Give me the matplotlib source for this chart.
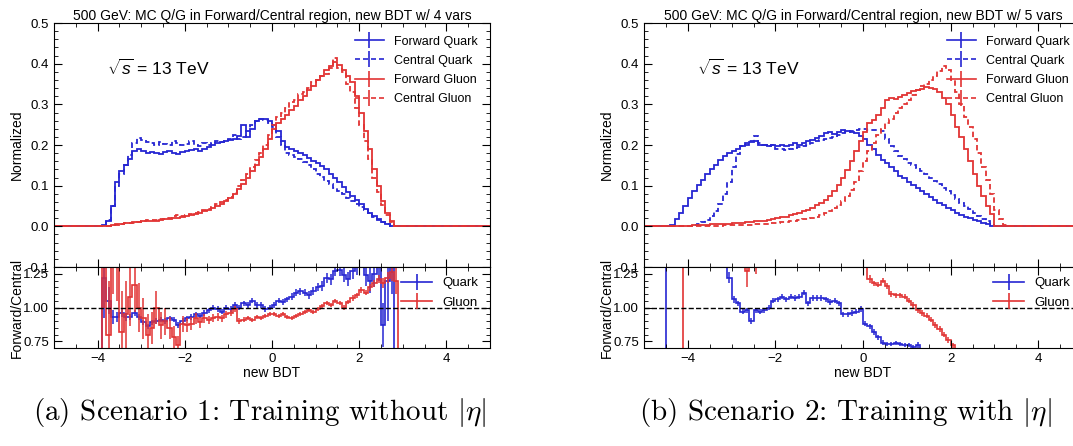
import matplotlib

matplotlib.use("Agg")
import matplotlib.pyplot as plt
import numpy as np
from matplotlib.lines import Line2D
from matplotlib.ticker import MultipleLocator, FormatStrFormatter

plt.rcParams["font.family"] = ["Liberation Sans", "DejaVu Sans"]
plt.rcParams["mathtext.fontset"] = "custom"
plt.rcParams["mathtext.rm"] = "Liberation Sans"
plt.rcParams["mathtext.it"] = "Liberation Sans:italic"

BLUE = "#2626d2"
RED = "#e23434"

# histogram bins: new BDT from -5 to 5, width 0.1
bdt_edges = np.linspace(-5.0, 5.0, 101)

# ---- Scenario 1 (4 vars), values start at bin with left edge -4.0 ----
a_start = -4.0
a_fwd_quark = [0.0, 0.004, 0.013, 0.05, 0.11, 0.135, 0.15, 0.165, 0.185, 0.19,
               0.185, 0.18, 0.183, 0.18, 0.178, 0.182, 0.185, 0.18, 0.178, 0.182,
               0.186, 0.188, 0.19, 0.186, 0.19, 0.195, 0.2, 0.205, 0.207, 0.21,
               0.212, 0.215, 0.222, 0.25, 0.22, 0.24, 0.258, 0.265, 0.263, 0.26,
               0.25, 0.235, 0.21, 0.195, 0.19, 0.185, 0.18, 0.175, 0.168, 0.16,
               0.155, 0.148, 0.14, 0.13, 0.12, 0.11, 0.097, 0.085, 0.075, 0.065,
               0.054, 0.043, 0.033, 0.025, 0.017, 0.01, 0.005, 0.002, 0.0, 0.0]
a_cen_quark = [0.0, 0.003, 0.015, 0.05, 0.1, 0.13, 0.15, 0.175, 0.205, 0.218,
               0.212, 0.208, 0.205, 0.2, 0.207, 0.203, 0.2, 0.21, 0.205, 0.2,
               0.202, 0.21, 0.2, 0.198, 0.205, 0.2, 0.205, 0.21, 0.208, 0.21,
               0.215, 0.225, 0.215, 0.22, 0.235, 0.25, 0.26, 0.265, 0.262, 0.255,
               0.245, 0.22, 0.2, 0.18, 0.175, 0.17, 0.165, 0.158, 0.15, 0.14,
               0.13, 0.122, 0.112, 0.103, 0.095, 0.088, 0.08, 0.07, 0.062, 0.055,
               0.047, 0.04, 0.032, 0.024, 0.016, 0.01, 0.005, 0.002, 0.0, 0.0]
a_fwd_gluon = [0.0, 0.001, 0.002, 0.003, 0.005, 0.006, 0.008, 0.009, 0.01, 0.011,
               0.012, 0.013, 0.014, 0.014, 0.016, 0.017, 0.018, 0.02, 0.021, 0.023,
               0.025, 0.027, 0.03, 0.033, 0.037, 0.04, 0.045, 0.05, 0.055, 0.062,
               0.07, 0.08, 0.092, 0.105, 0.12, 0.135, 0.15, 0.17, 0.19, 0.215,
               0.24, 0.255, 0.265, 0.275, 0.285, 0.295, 0.31, 0.32, 0.335, 0.345,
               0.36, 0.37, 0.385, 0.395, 0.405, 0.398, 0.385, 0.37, 0.355, 0.32,
               0.28, 0.235, 0.19, 0.14, 0.1, 0.062, 0.033, 0.012, 0.002, 0.0]
a_cen_gluon = [0.0, 0.001, 0.002, 0.003, 0.004, 0.006, 0.008, 0.009, 0.009, 0.011,
               0.013, 0.015, 0.016, 0.015, 0.018, 0.019, 0.021, 0.025, 0.027, 0.026,
               0.028, 0.03, 0.032, 0.036, 0.04, 0.043, 0.048, 0.054, 0.06, 0.066,
               0.073, 0.082, 0.1, 0.113, 0.13, 0.145, 0.162, 0.18, 0.2, 0.225,
               0.25, 0.27, 0.278, 0.29, 0.305, 0.31, 0.325, 0.33, 0.34, 0.355,
               0.36, 0.37, 0.375, 0.39, 0.415, 0.39, 0.38, 0.35, 0.33, 0.29,
               0.25, 0.21, 0.165, 0.12, 0.085, 0.052, 0.027, 0.01, 0.002, 0.0]

# ratio forward/central, scenario 1
a_ratio_quark = [0.0, 1.22, 1.05, 0.93, 0.93, 0.96, 0.93, 0.93, 0.96, 0.93,
                 0.89, 0.86, 0.89, 0.9, 0.91, 0.9, 0.92, 0.91, 0.87, 0.9,
                 0.92, 0.93, 0.95, 0.94, 0.96, 0.98, 1.0, 0.99, 0.97, 1.0,
                 0.99, 1.02, 1.0, 1.03, 1.02, 1.05, 1.02, 1.02, 0.99, 1.0,
                 1.02, 1.05, 1.04, 1.06, 1.08, 1.11, 1.12, 1.11, 1.09, 1.12,
                 1.15, 1.16, 1.22, 1.21, 1.27, 1.28, 1.24, 1.21, 1.27, 1.3,
                 1.36, 1.24, 1.2, 1.25, 1.32, 0.87, 1.2, 1.6, 0.0, 0.0]
a_err_quark = [0.0, 0.3, 0.1, 0.05, 0.04, 0.03, 0.03, 0.025, 0.02, 0.02,
               0.02, 0.02, 0.02, 0.02, 0.02, 0.02, 0.02, 0.02, 0.02, 0.02,
               0.02, 0.02, 0.02, 0.02, 0.02, 0.02, 0.02, 0.02, 0.02, 0.02,
               0.02, 0.02, 0.02, 0.02, 0.02, 0.02, 0.02, 0.02, 0.02, 0.02,
               0.02, 0.02, 0.02, 0.02, 0.025, 0.025, 0.025, 0.025, 0.03, 0.03,
               0.03, 0.035, 0.035, 0.04, 0.04, 0.045, 0.05, 0.05, 0.06, 0.06,
               0.07, 0.08, 0.09, 0.1, 0.12, 0.16, 0.3, 0.5, 0.0, 0.0]
a_ratio_gluon = [0.0, 1.6, 0.8, 1.5, 1.35, 0.82, 0.95, 1.08, 1.17, 1.0,
                 0.92, 0.8, 0.85, 1.0, 0.87, 0.9, 0.85, 0.78, 0.72, 0.88,
                 0.87, 0.88, 0.92, 0.89, 0.92, 0.91, 0.92, 0.93, 0.92, 0.95,
                 0.96, 0.99, 0.9, 0.91, 0.92, 0.91, 0.93, 0.92, 0.94, 0.95,
                 0.95, 0.94, 0.95, 0.93, 0.92, 0.94, 0.95, 0.97, 0.98, 0.97,
                 0.99, 1.01, 1.03, 1.02, 1.05, 1.03, 1.0, 1.04, 1.07, 1.09,
                 1.13, 1.11, 1.15, 1.18, 1.21, 1.18, 1.22, 1.26, 1.2, 0.0]
a_err_gluon = [0.0, 0.6, 0.4, 0.4, 0.3, 0.3, 0.25, 0.22, 0.2, 0.18,
               0.15, 0.15, 0.12, 0.12, 0.1, 0.1, 0.08, 0.08, 0.07, 0.06,
               0.05, 0.05, 0.04, 0.04, 0.035, 0.03, 0.03, 0.03, 0.025, 0.025,
               0.02, 0.02, 0.02, 0.02, 0.015, 0.015, 0.015, 0.015, 0.015, 0.015,
               0.015, 0.015, 0.015, 0.015, 0.015, 0.015, 0.015, 0.015, 0.015, 0.015,
               0.015, 0.015, 0.015, 0.015, 0.015, 0.015, 0.015, 0.015, 0.02, 0.02,
               0.02, 0.02, 0.025, 0.025, 0.03, 0.035, 0.04, 0.06, 0.1, 0.0]

# ---- Scenario 2 (5 vars), values start at bin with left edge -4.6 ----
b_start = -4.6
b_fwd_quark = [0.0, 0.0, 0.004, 0.018, 0.034, 0.05, 0.07, 0.088, 0.102, 0.115,
               0.128, 0.14, 0.152, 0.163, 0.172, 0.18, 0.186, 0.19, 0.197, 0.2,
               0.208, 0.21, 0.2, 0.2, 0.198, 0.2, 0.197, 0.2, 0.198, 0.2,
               0.205, 0.2, 0.205, 0.21, 0.212, 0.218, 0.222, 0.23, 0.233, 0.228,
               0.232, 0.236, 0.235, 0.232, 0.23, 0.222, 0.215, 0.2, 0.19, 0.175,
               0.163, 0.155, 0.145, 0.135, 0.125, 0.118, 0.11, 0.102, 0.095, 0.088,
               0.08, 0.072, 0.065, 0.058, 0.052, 0.046, 0.04, 0.034, 0.029, 0.024,
               0.02, 0.016, 0.012, 0.009, 0.005, 0.002, 0.0, 0.0, 0.0, 0.0]
b_cen_quark = [0.0, 0.0, 0.0, 0.0, 0.0, 0.0, 0.001, 0.003, 0.006, 0.01,
               0.016, 0.025, 0.038, 0.055, 0.08, 0.11, 0.145, 0.178, 0.197, 0.205,
               0.21, 0.222, 0.205, 0.2, 0.198, 0.2, 0.19, 0.19, 0.188, 0.19,
               0.192, 0.195, 0.197, 0.2, 0.205, 0.21, 0.212, 0.215, 0.218, 0.22,
               0.225, 0.23, 0.232, 0.235, 0.238, 0.24, 0.24, 0.238, 0.238, 0.237,
               0.235, 0.215, 0.198, 0.185, 0.174, 0.165, 0.157, 0.15, 0.143, 0.136,
               0.128, 0.12, 0.112, 0.104, 0.095, 0.086, 0.077, 0.068, 0.058, 0.05,
               0.042, 0.034, 0.026, 0.019, 0.012, 0.006, 0.002, 0.0, 0.0, 0.0]
b_fwd_gluon = [0.0, 0.0, 0.0, 0.001, 0.001, 0.002, 0.002, 0.003, 0.003, 0.004,
               0.004, 0.005, 0.005, 0.006, 0.006, 0.007, 0.008, 0.008, 0.009, 0.01,
               0.011, 0.012, 0.013, 0.014, 0.016, 0.018, 0.02, 0.022, 0.024, 0.027,
               0.03, 0.033, 0.037, 0.041, 0.046, 0.052, 0.058, 0.066, 0.075, 0.088,
               0.102, 0.118, 0.138, 0.16, 0.185, 0.21, 0.232, 0.255, 0.262, 0.275,
               0.29, 0.31, 0.315, 0.312, 0.318, 0.322, 0.328, 0.332, 0.335, 0.338,
               0.342, 0.34, 0.338, 0.33, 0.315, 0.3, 0.275, 0.245, 0.22, 0.19,
               0.16, 0.13, 0.1, 0.075, 0.05, 0.03, 0.0, 0.0, 0.0, 0.0]
b_cen_gluon = [0.0, 0.0, 0.0, 0.0, 0.0, 0.0, 0.0005, 0.001, 0.001, 0.001,
               0.002, 0.002, 0.002, 0.002, 0.003, 0.003, 0.003, 0.003, 0.003, 0.004,
               0.004, 0.005, 0.005, 0.006, 0.007, 0.008, 0.009, 0.01, 0.011, 0.012,
               0.013, 0.015, 0.017, 0.019, 0.021, 0.024, 0.028, 0.032, 0.037, 0.044,
               0.052, 0.062, 0.075, 0.09, 0.11, 0.135, 0.16, 0.185, 0.205, 0.225,
               0.24, 0.255, 0.265, 0.278, 0.29, 0.3, 0.31, 0.322, 0.335, 0.345,
               0.35, 0.36, 0.37, 0.383, 0.395, 0.385, 0.36, 0.33, 0.3, 0.27,
               0.245, 0.215, 0.18, 0.145, 0.115, 0.08, 0.04, 0.018, 0.004, 0.0]

# ratio forward/central, scenario 2
b_ratio_quark = [0.0, 2.0, 2.0, 2.0, 2.0, 2.0, 2.0, 2.0, 2.0, 2.0,
                 2.0, 2.0, 2.0, 2.0, 1.5, 1.22, 1.06, 1.03, 0.97, 0.98,
                 0.9, 0.98, 0.97, 0.98, 1.0, 1.05, 1.06, 1.08, 1.06, 1.08,
                 1.07, 1.08, 1.11, 1.03, 1.07, 1.07, 1.07, 1.06, 1.04, 1.05,
                 1.03, 0.95, 0.95, 0.96, 0.97, 0.99, 0.88, 0.86, 0.82, 0.78,
                 0.74, 0.73, 0.73, 0.74, 0.73, 0.72, 0.72, 0.71, 0.72, 0.6,
                 0.6, 0.6, 0.6, 0.6, 0.6, 0.6, 0.6, 0.6, 0.6, 0.6]
b_err_quark = [0.0, 0.0, 0.0, 0.0, 0.0, 0.0, 0.0, 0.0, 0.0, 0.0,
               0.0, 0.0, 0.0, 0.0, 0.1, 0.04, 0.025, 0.02, 0.02, 0.02,
               0.025, 0.02, 0.02, 0.02, 0.02, 0.02, 0.02, 0.02, 0.02, 0.02,
               0.02, 0.02, 0.02, 0.02, 0.02, 0.02, 0.02, 0.02, 0.02, 0.02,
               0.02, 0.02, 0.02, 0.02, 0.02, 0.02, 0.02, 0.02, 0.02, 0.02,
               0.02, 0.015, 0.015, 0.015, 0.015, 0.015, 0.015, 0.015, 0.025, 0.0,
               0.0, 0.0, 0.0, 0.0, 0.0, 0.0, 0.0, 0.0, 0.0, 0.0]
b_ratio_gluon = [0.0, 0.0, 0.0, 0.0, 0.0, 2.0, 2.0, 2.0, 2.0, 2.0,
                 2.0, 2.0, 2.0, 2.0, 2.0, 2.0, 2.0, 2.0, 2.0, 1.27,
                 2.0, 1.33, 2.0, 2.0, 2.0, 2.0, 2.0, 2.0, 2.0, 2.0,
                 2.0, 2.0, 2.0, 2.0, 2.0, 2.0, 2.0, 2.0, 2.0, 2.0,
                 2.0, 2.0, 2.0, 2.0, 2.0, 2.0, 1.4, 1.21, 1.18, 1.17,
                 1.2, 1.16, 1.1, 1.09, 1.09, 1.08, 1.05, 1.02, 0.98, 0.96,
                 0.94, 0.91, 0.87, 0.84, 0.8, 0.76, 0.72, 0.6, 0.6, 0.6]
b_err_gluon = [0.0, 0.0, 0.0, 0.0, 0.0, 0.0, 0.0, 0.0, 0.0, 0.0,
               0.0, 0.0, 0.0, 0.0, 0.0, 0.0, 0.0, 0.0, 0.0, 0.12,
               0.0, 0.08, 0.0, 0.0, 0.0, 0.0, 0.0, 0.0, 0.0, 0.0,
               0.0, 0.0, 0.0, 0.0, 0.0, 0.0, 0.0, 0.0, 0.0, 0.0,
               0.0, 0.0, 0.0, 0.0, 0.0, 0.0, 0.05, 0.03, 0.02, 0.02,
               0.02, 0.02, 0.02, 0.02, 0.02, 0.02, 0.02, 0.02, 0.02, 0.02,
               0.02, 0.02, 0.02, 0.02, 0.02, 0.02, 0.02, 0.0, 0.0, 0.0]

titles = ["500 GeV: MC Q/G in Forward/Central region, new BDT w/ 4 vars",
          "500 GeV: MC Q/G in Forward/Central region, new BDT w/ 5 vars"]
captions = [r"(a) Scenario 1: Training without $|\eta|$",
            r"(b) Scenario 2: Training with $|\eta|$"]
hist_labels = ["Forward Quark", "Central Quark", "Forward Gluon", "Central Gluon"]

DASH = (0, (3.0, 1.8))


def _pad(values, start):
    full = np.zeros(len(bdt_edges) - 1)
    i0 = int(round((start - bdt_edges[0]) / 0.1))
    full[i0:i0 + len(values)] = values
    return full


def _style(ax, ymajor, yminor):
    ax.set_xlim(-5, 5)
    ax.xaxis.set_major_locator(MultipleLocator(2))
    ax.xaxis.set_minor_locator(MultipleLocator(0.5))
    ax.yaxis.set_major_locator(MultipleLocator(ymajor))
    ax.yaxis.set_minor_locator(MultipleLocator(yminor))
    ax.tick_params(which="both", direction="in", top=True, right=True, labelsize=9.5)
    ax.tick_params(which="major", length=6)
    ax.tick_params(which="minor", length=3)


def draw_panel(fig, left, width, title, hists, start, ratios, rstart, caption, cap_x):
    ax = fig.add_axes([left, 0.4013, width, 0.547])
    rax = fig.add_axes([left, 0.2197, width, 0.1816])
    styles = [(BLUE, "-"), (BLUE, DASH), (RED, "-"), (RED, DASH)]
    for vals, (c, ls) in zip(hists, styles):
        ax.stairs(_pad(vals, start), bdt_edges, baseline=None, color=c, ls=ls, lw=1.3)
    _style(ax, 0.1, 0.02)
    ax.set_ylim(-0.1, 0.5)
    ax.yaxis.set_major_formatter(FormatStrFormatter("%.1f"))
    ax.tick_params(labelbottom=False)
    ax.set_ylabel("Normalized", fontsize=10)
    ax.set_title(title, fontsize=10, pad=2)
    ax.text(-3.78, 0.39, r"$\sqrt{s}$ = 13 TeV", fontsize=12.5, va="center")
    handles = [Line2D([], [], color=c, ls=ls, lw=1.2, marker="|", markersize=11,
                      markeredgewidth=1.2) for c, ls in styles]
    ax.legend(handles, hist_labels, loc="upper right", frameon=False, fontsize=9,
              handlelength=2.3, handletextpad=0.8, labelspacing=0.58,
              borderaxespad=0.6, numpoints=1)

    centers = 0.5 * (bdt_edges[1:] + bdt_edges[:-1])
    for (vals, errs), c in zip(ratios, [BLUE, RED]):
        full = _pad(vals, rstart)
        err = _pad(errs, rstart)
        rax.stairs(full, bdt_edges, baseline=None, color=c, lw=1.2)
        m = err > 0
        rax.errorbar(centers[m], full[m], yerr=err[m], fmt="none", ecolor=c, elinewidth=1.1)
    rax.axhline(1.0, color="black", ls="--", lw=1.0)
    _style(rax, 0.25, 0.05)
    rax.set_ylim(0.7, 1.3)
    rax.yaxis.set_major_formatter(FormatStrFormatter("%.2f"))
    rax.set_xlabel("new BDT", fontsize=10, labelpad=1)
    rax.set_ylabel("Forward/Central", fontsize=10)
    rhandles = [Line2D([], [], color=c, lw=1.2, marker="|", markersize=11,
                       markeredgewidth=1.2) for c in [BLUE, RED]]
    rax.legend(rhandles, ["Quark", "Gluon"], loc="center right", frameon=False,
               fontsize=9.5, handlelength=2.3, handletextpad=0.8, labelspacing=0.55,
               bbox_to_anchor=(1.0, 0.68), numpoints=1)
    ax.yaxis.set_label_coords(-0.068, 0.5)
    rax.yaxis.set_label_coords(-0.068, 0.5)

    fig.text(cap_x, 0.074, caption, fontsize=21, family="cmr10", ha="center", va="center",
             math_fontfamily="cm")


fig = plt.figure(figsize=(10.73, 4.46), dpi=100)
draw_panel(fig, 54 / 1073, 436 / 1073, titles[0],
           [a_fwd_quark, a_cen_quark, a_fwd_gluon, a_cen_gluon], a_start,
           [(a_ratio_quark, a_err_quark), (a_ratio_gluon, a_err_gluon)], a_start,
           captions[0], 260 / 1073)
draw_panel(fig, 644 / 1073, 438 / 1073, titles[1],
           [b_fwd_quark, b_cen_quark, b_fwd_gluon, b_cen_gluon], b_start,
           [(b_ratio_quark, b_err_quark), (b_ratio_gluon, b_err_gluon)], b_start,
           captions[1], 845 / 1073)
fig.savefig("out.png", dpi=100)
